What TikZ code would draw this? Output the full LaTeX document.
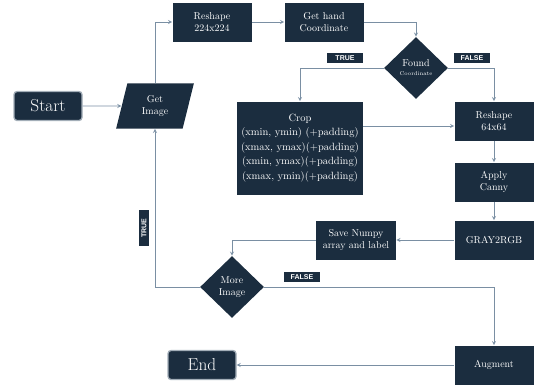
\documentclass[tikz,border=0pt]{standalone}
\usepackage{fontspec}
\setsansfont{Liberation Sans}
\usetikzlibrary{shapes.geometric}
\usetikzlibrary{positioning}
\definecolor{navy}{HTML}{1B2D3F}
\definecolor{wire}{HTML}{7A8FA3}
\definecolor{rim}{HTML}{A3AEB8}

\begin{document}
\begin{tikzpicture}[x=1pt,y=-1pt,->,>=stealth,draw=wire,line width=0.8pt,on grid,
    box/.style={rectangle,fill=navy,text=white,minimum width=79pt,minimum height=39pt,align=center,font=\normalsize,inner sep=2pt},
    term/.style={rectangle,rounded corners=3pt,fill=navy,draw=rim,line width=1.3pt,text=white,minimum width=68pt,minimum height=29pt,font=\LARGE},
    decision/.style={diamond,fill=navy,text=white,minimum width=64pt,minimum height=62pt,inner sep=0pt,align=center,font=\normalsize},
    io/.style={trapezium,trapezium left angle=76,trapezium right angle=104,fill=navy,text=white,minimum width=78pt,minimum height=39pt,align=center,font=\normalsize,inner sep=1pt},
    tag/.style={fill=navy,text=white,font=\sffamily\bfseries\fontsize{7}{8}\selectfont,minimum width=36pt,minimum height=10pt,inner sep=1pt}]
    \useasboundingbox (0,0) rectangle (535,386);
    \node[term] (start) at (48,106) {Start};
    \node[io] (getimg) at (155,106) {Get\\Image};
    \node[box] (r224) at (212,22) {Reshape\\224x224};
    \node[box] (hand) [right=112pt of r224] {Get hand\\Coordinate};
    \node[decision] (found) at (416,68) {Found\\[-3pt]{\fontsize{5.5}{6}\selectfont Coordinate}};
    \node[box,minimum width=126pt,minimum height=93pt,font=\fontsize{10.5}{14.5}\selectfont] (crop) at (300,148)
        {Crop\\(xmin, ymin) (+padding)\\(xmax, ymax)(+padding)\\(xmin, ymax)(+padding)\\(xmax, ymin)(+padding)};
    \node[box] (r64) at (494,121) {Reshape\\64x64};
    \node[box] (canny) [below=61pt of r64] {Apply\\Canny};
    \node[box] (gray) [below=58pt of canny] {GRAY2RGB};
    \node[box,minimum width=80pt] (save) [left=138pt of gray] {Save Numpy\\array and label};
    \node[decision] (more) at (232,287) {More\\Image};
    \node[box] (augment) at (494,365) {Augment};
    \node[term] (end) at (202,365) {End};
    \node[tag] (yes1) at (345,58) {TRUE};
    \node[tag] (no1) at (472,58) {FALSE};
    \node[tag,rotate=90] (yes2) at (144,228) {TRUE};
    \node[tag] (no2) at (302,277) {FALSE};
    \coordinate (cropin) at ([yshift=-5pt]r64.west);
    \draw (start) -- (getimg);
    \draw (getimg) |- (r224);
    \draw (r224) -- (hand);
    \draw (hand) -| (found);
    \draw (found) -| (crop);
    \draw (found) -| (r64);
    \draw (crop.east |- cropin) -- (cropin);
    \draw (r64) -- (canny);
    \draw (canny) -- (gray);
    \draw (gray) -- (save);
    \draw (save) -| (more);
    \draw (more) -| (getimg);
    \draw (more) -| (augment);
    \draw (augment) -- (end);
\end{tikzpicture}
\end{document}
